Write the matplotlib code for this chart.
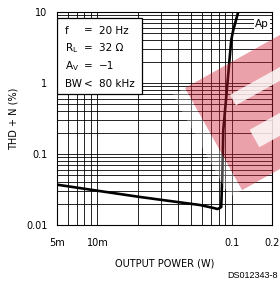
import matplotlib
matplotlib.use('Agg')
import matplotlib.pyplot as plt
from matplotlib.patches import Polygon
import numpy as np

# curve (output power in W, THD+N in %)
power = [0.005, 0.010, 0.0208, 0.040, 0.0584, 0.0740, 0.0782, 0.0809, 0.0837,
         0.0845, 0.0852, 0.0867, 0.0912, 0.0960, 0.0994, 0.1029, 0.1121]
thd = [0.037, 0.0304, 0.0248, 0.021, 0.0191, 0.0173, 0.0168, 0.0172, 0.0179,
       0.0311, 0.0459, 0.218, 0.635, 1.91, 4.03, 5.58, 10.0]

x_ticks = [0.005, 0.01, 0.1, 0.2]
x_labels = ['5m', '10m', '0.1', '0.2']
y_ticks = [0.01, 0.1, 1, 10]
y_labels = ['0.01', '0.1', '1', '10']

cond_names = ['f', 'R$_\\mathregular{L}$', 'A$_\\mathregular{V}$', 'BW']
cond_ops = ['=', '=', '=', '<']
cond_vals = ['20 Hz', '32 \u03a9', '\u22121', '80 kHz']

plt.rcParams['font.family'] = ['DejaVu Sans']
plt.rcParams['font.size'] = 7

fig = plt.figure(figsize=(2.8, 2.86), dpi=100)
ax = fig.add_axes([57 / 280, 1 - 225 / 286, 215 / 280, 213 / 286])

ax.set_xscale('log')
ax.set_yscale('log')
ax.set_xlim(0.005, 0.2)
ax.set_ylim(0.01, 10)

ax.plot(power, thd, color='black', linewidth=1.9, solid_joinstyle='round', zorder=3)

ax.set_xticks(x_ticks)
ax.set_xticklabels(x_labels)
ax.set_yticks(y_ticks)
ax.set_yticklabels(y_labels)
ax.tick_params(which='both', length=0)
ax.tick_params(axis='x', pad=9)
ax.tick_params(axis='y', pad=7)
ax.grid(True, which='both', color='black', linewidth=0.6)
for s in ax.spines.values():
    s.set_linewidth(0.8)

ax.set_xlabel('OUTPUT POWER (W)', labelpad=8)
ax.set_ylabel('THD + N (%)', labelpad=5)

# test conditions box in the upper left
box = plt.Rectangle((0, 1 - 82 / 213), 85 / 215, 76 / 213, transform=ax.transAxes,
                    facecolor='white', edgecolor='black', linewidth=0.9, zorder=4)
ax.add_patch(box)
for i in range(len(cond_names)):
    yy = 1 - (18.5 + 17.7 * i) / 213
    ax.text(8 / 215, yy, cond_names[i], transform=ax.transAxes, fontsize=7.5, va='center', zorder=5)
    ax.text(31 / 215, yy, cond_ops[i], transform=ax.transAxes, fontsize=7.5, va='center',
            ha='center', zorder=5)
    ax.text(42 / 215, yy, cond_vals[i], transform=ax.transAxes, fontsize=7.5, va='center', zorder=5)

ax.text(0.985, 0.965, 'Ap', transform=ax.transAxes, ha='right', va='top', fontsize=7.5, zorder=5,
        bbox=dict(facecolor='white', edgecolor='none', pad=1))

fig.text(278 / 280, 1 - 276 / 286, 'DS012343-8', ha='right', va='center',
         fontsize=6.5, family='Liberation Sans')

# watermark logo (rotated E) in pixel coordinates
a = np.array([185.0, 88.0])
u = np.array([57.0, 102.0]) / np.hypot(57, 102)
v = np.array([u[1], -u[0]])


def quad(s0, s1, t0, t1):
    pts = [a + s0 * u + t0 * v, a + s1 * u + t0 * v, a + s1 * u + t1 * v, a + s0 * u + t1 * v]
    return [(p[0], 286 - p[1]) for p in pts]


fig.add_artist(Polygon(quad(0, 117, -14, 0), closed=True, transform=None,
                       facecolor='white', edgecolor='none', alpha=0.3, zorder=6))
fig.add_artist(Polygon(quad(0, 117, 0, 200), closed=True, transform=None,
                       facecolor=(0.82, 0.12, 0.2), edgecolor='none', alpha=0.42, zorder=6))
fig.add_artist(Polygon(quad(28, 40, 36, 200), closed=True, transform=None,
                       facecolor='white', edgecolor='none', alpha=0.8, zorder=7))
fig.add_artist(Polygon(quad(68, 88, 36, 200), closed=True, transform=None,
                       facecolor='white', edgecolor='none', alpha=0.8, zorder=7))

fig.savefig('out.png', dpi=100)
